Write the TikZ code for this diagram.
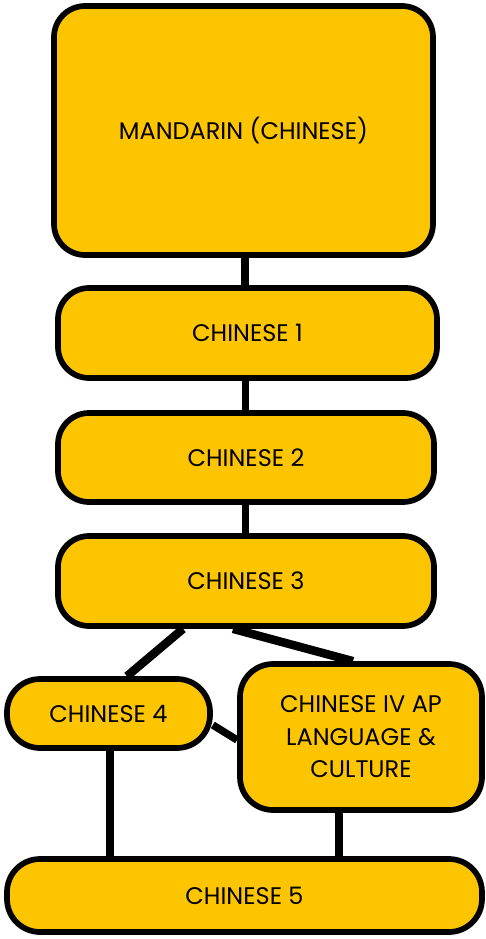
\documentclass[tikz,border=0pt]{standalone}
\usepackage{fontspec}
\setmainfont{Poppins}
\usetikzlibrary{backgrounds}
\definecolor{boxyellow}{RGB}{253,197,0}
\tikzset{
  box/.style={draw=black, fill=boxyellow, line width=5.7pt, rounded corners=31pt,
    inner sep=0pt, align=center, font=\fontsize{24}{32.5}\selectfont},
  conn/.style={draw=black, line width=7.5pt},
  diag/.style={draw=black, line width=8.5pt},
}
\begin{document}
\begin{tikzpicture}[x=1pt,y=-1pt]
\useasboundingbox (0,0) rectangle (486,939);
\node[box, minimum width=379pt, minimum height=249pt] (man) at (243.5,130.5) {MANDARIN (CHINESE)};
\node[box, minimum width=379pt, minimum height=90pt] (c1) at (247.5,333) {CHINESE 1};
\node[box, minimum width=376pt, minimum height=89pt] (c2) at (246,457.5) {CHINESE 2};
\node[box, minimum width=376pt, minimum height=90pt] (c3) at (246,581) {CHINESE 3};
\node[box, minimum width=203pt, minimum height=69pt, rounded corners=33pt] (c4) at (108.5,713.5) {CHINESE 4};
\node[box, minimum width=242pt, minimum height=146pt, rounded corners=33pt] (ap) at (361,737) {CHINESE IV AP\\LANGUAGE \&\\CULTURE};
\node[box, minimum width=475pt, minimum height=73pt, rounded corners=33pt] (c5) at (244.5,895.5) {CHINESE 5};
\begin{scope}[on background layer]
\draw[conn] ([xshift=1.5pt]man.south) -- ([xshift=-2.5pt]c1.north);
\draw[conn] ([xshift=-2pt]c1.south) -- ([xshift=-0.5pt]c2.north);
\draw[conn] ([xshift=-0.5pt]c2.south) -- ([xshift=-0.5pt]c3.north);
\draw[diag] ([xshift=-63pt]c3.south) -- ([xshift=18.5pt]c4.north);
\draw[diag] ([xshift=-13pt]c3.south) -- ([xshift=-8pt]ap.north);
\draw[conn] ([yshift=-11.5pt]c4.east) -- ([yshift=-3pt]ap.west);
\draw[conn] ([xshift=1.5pt]c4.south) -- ([xshift=1.5pt]c4.south |- c5.north);
\draw[conn] ([xshift=-22pt]ap.south) -- ([xshift=-22pt]ap.south |- c5.north);
\end{scope}
\end{tikzpicture}
\end{document}
